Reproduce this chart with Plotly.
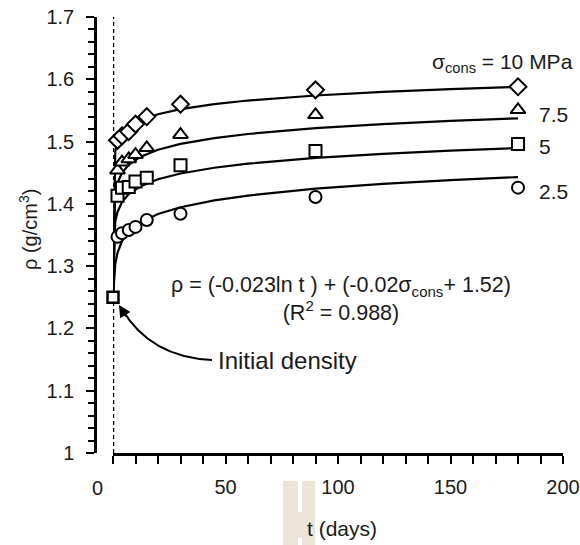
import plotly.graph_objects as go

# ---------------- data ----------------
t_meas = [2, 4, 7, 10, 15, 30, 90, 180]
rho_10 = [1.502, 1.509, 1.516, 1.528, 1.540, 1.560, 1.583, 1.588]
rho_75 = [1.454, 1.467, 1.472, 1.479, 1.490, 1.511, 1.543, 1.551]
rho_5 = [1.413, 1.426, 1.427, 1.436, 1.442, 1.462, 1.485, 1.496]
rho_25 = [1.347, 1.353, 1.358, 1.363, 1.374, 1.384, 1.411, 1.426]

t_init = [0]
rho_init = [1.25]

# fitted curves
t_fit = [0, 1, 2, 4, 7, 12, 20, 30, 45, 60, 90, 120, 150, 180]
fit_10 = [1.25, 1.4840, 1.4979, 1.5117, 1.5229, 1.5337, 1.5439, 1.5520, 1.5601, 1.5659, 1.5740, 1.5798, 1.5842, 1.5879]
fit_75 = [1.25, 1.4180, 1.4339, 1.4499, 1.4628, 1.4752, 1.4869, 1.4962, 1.5056, 1.5122, 1.5215, 1.5281, 1.5332, 1.5374]
fit_5 = [1.25, 1.3712, 1.3870, 1.4028, 1.4156, 1.4279, 1.4395, 1.4487, 1.4580, 1.4645, 1.4738, 1.4804, 1.4854, 1.4896]
fit_25 = [1.25, 1.3028, 1.3215, 1.3402, 1.3553, 1.3699, 1.3837, 1.3946, 1.4056, 1.4133, 1.4243, 1.4321, 1.4381, 1.4430]

series_labels = ["7.5", "5", "2.5"]
x_ticks = [50, 100, 150, 200]
x_zero_label = "0"
y_ticks = [1, 1.1, 1.2, 1.3, 1.4, 1.5, 1.6, 1.7]

# ---------------- layout geometry (pixels) ----------------
W, H = 580, 545
L, R, T, B = 95, 17, 17, 92
PW = W - L - R
PH = H - T - B
X0_PX = 113  # where t=0 sits
XMAX = 200
YMIN, YMAX = 1.0, 1.7


def dx(px):  # pixel x -> data t
    return (px - X0_PX) / ((W - R) - X0_PX) * XMAX


def dy(py):  # pixel y -> data rho
    return YMAX - (py - T) / PH * (YMAX - YMIN)


def px_(px):  # pixel x -> paper
    return (px - L) / PW


def py_(py):  # pixel y -> paper
    return (H - B - py) / PH


FONT = "Liberation Sans, Arial, sans-serif"
TXT = "#1a1a1a"

fig = go.Figure()

# dotted vertical line at t = 0
fig.add_trace(go.Scatter(x=[0, 0], y=[YMIN, YMAX], mode="lines", cliponaxis=False,
                         line=dict(color="black", width=2.5, dash="4px,3px"),
                         hoverinfo="skip", showlegend=False))

# fitted curves
for f in (fit_10, fit_75, fit_5, fit_25):
    fig.add_trace(go.Scatter(x=t_fit, y=f, mode="lines", cliponaxis=False,
                             line=dict(color="black", width=2.2),
                             showlegend=False, hoverinfo="skip"))

mk = dict(color="white", line=dict(color="black", width=2))
fig.add_trace(go.Scatter(x=t_meas, y=rho_25, mode="markers", showlegend=False, cliponaxis=False,
                         marker=dict(symbol="circle", size=12, **mk)))
fig.add_trace(go.Scatter(x=t_meas, y=rho_5, mode="markers", showlegend=False, cliponaxis=False,
                         marker=dict(symbol="square", size=12, **mk)))
fig.add_trace(go.Scatter(x=t_meas, y=rho_75, mode="markers", showlegend=False, cliponaxis=False,
                         marker=dict(symbol="triangle-up", size=13, **mk)))
fig.add_trace(go.Scatter(x=t_meas, y=rho_10, mode="markers", showlegend=False, cliponaxis=False,
                         marker=dict(symbol="diamond", size=13, **mk)))
fig.add_trace(go.Scatter(x=t_init, y=rho_init, mode="markers", showlegend=False, cliponaxis=False,
                         marker=dict(symbol="square", size=11, color="white",
                                     line=dict(color="black", width=2.5))))

annotations = []
# series labels
annotations.append(dict(x=dx(430), y=dy(63), xref="x", yref="y", xanchor="left",
                        yanchor="middle", showarrow=False,
                        text="σ<sub>cons</sub> = 10 MPa",
                        font=dict(size=21, family=FONT, color=TXT)))
for lab, ypx in zip(series_labels, [114, 146, 191]):
    annotations.append(dict(x=dx(537), y=dy(ypx), xref="x", yref="y", xanchor="left",
                            yanchor="middle", showarrow=False, text=lab,
                            font=dict(size=21, family=FONT, color=TXT)))
# equation
annotations.append(dict(x=dx(341), y=dy(299), xref="x", yref="y", xanchor="center",
                        yanchor="middle", showarrow=False, align="center",
                        text="ρ = (-0.023ln t ) + (-0.02σ<sub>cons</sub>+ 1.52)<br>(R<sup>2</sup> = 0.988)",
                        font=dict(size=21.5, family=FONT, color=TXT)))
# initial density label
annotations.append(dict(x=dx(216), y=dy(360), xref="x", yref="y", xanchor="left",
                        yanchor="middle", showarrow=False, text="Initial density",
                        font=dict(size=24, family=FONT, color=TXT)))
# arrow head
annotations.append(dict(x=dx(119), y=dy(305), xref="x", yref="y", text="",
                        showarrow=True, arrowhead=2, arrowsize=1.2, arrowwidth=2,
                        arrowcolor="black", ax=8, ay=13, standoff=0))
# "0" tick label (drawn left of the x-axis start, as in the source)
annotations.append(dict(x=px_(97), y=py_(488), xref="paper", yref="paper",
                        text=x_zero_label, showarrow=False,
                        xanchor="center", yanchor="middle",
                        font=dict(size=20, family=FONT, color=TXT)))
# axis titles
annotations.append(dict(x=px_(28), y=py_(230), xref="paper", yref="paper",
                        text="ρ (g/cm<sup>3</sup>)", textangle=-90, showarrow=False,
                        xanchor="center", yanchor="middle",
                        font=dict(size=20, family=FONT, color=TXT)))
annotations.append(dict(x=px_(342), y=py_(528), xref="paper", yref="paper",
                        text="t (days)", showarrow=False,
                        xanchor="center", yanchor="middle",
                        font=dict(size=21, family=FONT, color=TXT)))

shapes = []
# curved arrow shaft
p0 = (dx(212), dy(360))
c = (dx(150), dy(357))
p2 = (dx(122), dy(309))
shapes.append(dict(type="path", xref="x", yref="y",
                   path=f"M {p0[0]},{p0[1]} Q {c[0]},{c[1]} {p2[0]},{p2[1]}",
                   line=dict(color="black", width=2)))
# beige patch near the x title
beige = "#ECE4D6"
for (x0, x1, y0, y1) in [(283, 298, 481, 545), (302, 315, 481, 545), (297, 303, 512, 538)]:
    shapes.append(dict(type="rect", xref="paper", yref="paper",
                       x0=px_(x0), x1=px_(x1), y0=py_(y1), y1=py_(y0),
                       fillcolor=beige, line=dict(width=0), layer="below"))

fig.update_layout(
    width=W, height=H,
    margin=dict(l=L, r=R, t=T, b=B, pad=0, autoexpand=False),
    paper_bgcolor="white", plot_bgcolor="white",
    showlegend=False,
    font=dict(family=FONT, size=20, color=TXT),
    annotations=annotations,
    shapes=shapes,
    xaxis=dict(domain=[(X0_PX - L) / PW, 1], range=[0, XMAX], anchor="y",
               tickvals=x_ticks, ticks="outside", ticklen=8, tickwidth=2,
               tickcolor="black", showline=True, linecolor="black", linewidth=2.5,
               showgrid=False, zeroline=False, ticklabelstandoff=6, automargin=False,
               tickfont=dict(size=20, family=FONT, color=TXT),
               minor=dict(dtick=10, tick0=0, ticks="outside", ticklen=8, tickwidth=2,
                          tickcolor="black", showgrid=False)),
    yaxis=dict(range=[YMIN, YMAX], anchor="free", position=0,
               tickvals=y_ticks, ticks="outside", ticklen=8, tickwidth=2,
               tickcolor="black", showline=True, linecolor="black", linewidth=2.5,
               showgrid=False, zeroline=False, ticklabelstandoff=8, automargin=False,
               tickfont=dict(size=20, family=FONT, color=TXT),
               minor=dict(dtick=0.02, tick0=1, ticks="outside", ticklen=6, tickwidth=1.5,
                          tickcolor="black", showgrid=False)),
)

fig.write_html("out.html")
